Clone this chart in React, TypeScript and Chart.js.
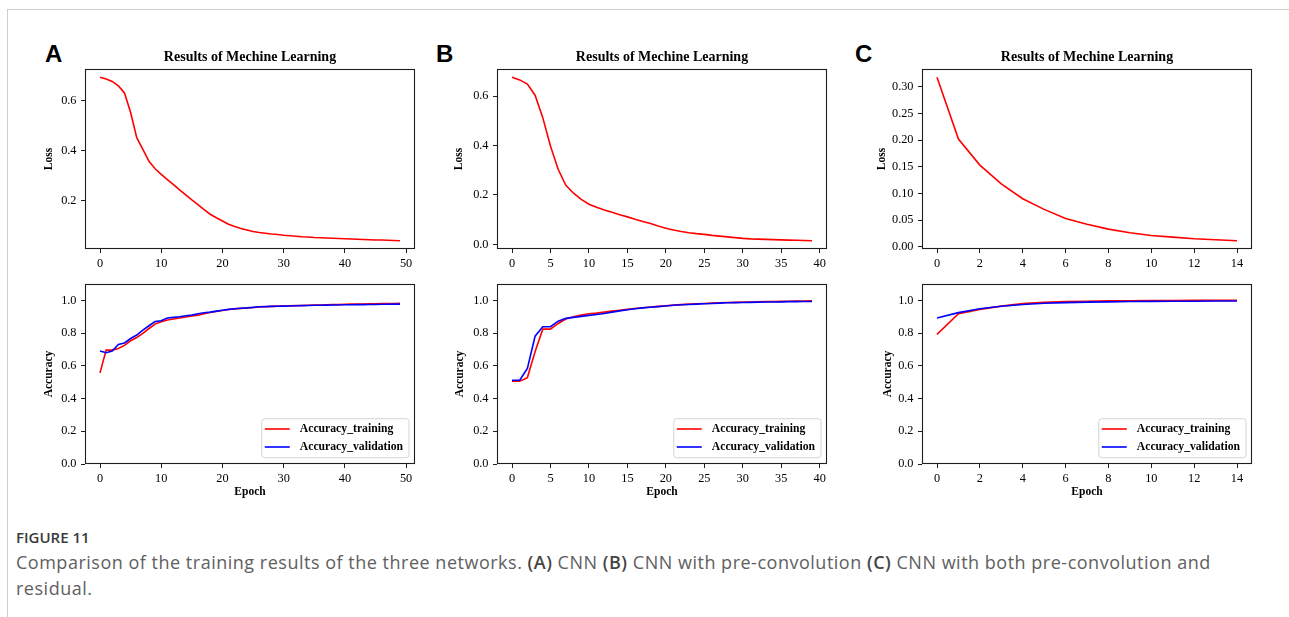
import React, { useEffect, useRef } from 'react';
import { Chart, registerables } from 'chart.js';

Chart.register(...registerables);

const SERIF = "'Liberation Serif', 'Times New Roman', Times, serif";
const SANS = "'Liberation Sans', Arial, Helvetica, sans-serif";
const CAPTION_FONT = "'Open Sans', 'Noto Sans', sans-serif";

// ---------- data ----------
const chartTitle = 'Results of Mechine Learning';
const panelLetters = ['A', 'B', 'C'];
const trainingLabel = 'Accuracy_training';
const validationLabel = 'Accuracy_validation';

const lossA = [0.693, 0.686, 0.676, 0.658, 0.63, 0.552, 0.452, 0.405, 0.358, 0.328, 0.306, 0.285, 0.265, 0.244, 0.224, 0.204, 0.185, 0.165, 0.147, 0.133, 0.12, 0.107, 0.098, 0.09, 0.084, 0.078, 0.074, 0.071, 0.068, 0.066, 0.063, 0.061, 0.059, 0.057, 0.056, 0.054, 0.053, 0.052, 0.051, 0.05, 0.049, 0.048, 0.047, 0.046, 0.045, 0.044, 0.044, 0.043, 0.042, 0.041];
const accTrainA = [0.557, 0.696, 0.696, 0.706, 0.725, 0.753, 0.773, 0.798, 0.828, 0.855, 0.87, 0.88, 0.886, 0.892, 0.898, 0.904, 0.91, 0.918, 0.926, 0.932, 0.938, 0.944, 0.948, 0.951, 0.953, 0.956, 0.959, 0.961, 0.963, 0.965, 0.966, 0.967, 0.968, 0.969, 0.97, 0.971, 0.972, 0.973, 0.974, 0.975, 0.976, 0.977, 0.977, 0.978, 0.979, 0.979, 0.98, 0.98, 0.981, 0.982];
const accValA = [0.69, 0.68, 0.69, 0.73, 0.74, 0.767, 0.788, 0.818, 0.845, 0.87, 0.875, 0.892, 0.896, 0.9, 0.906, 0.91, 0.918, 0.924, 0.928, 0.934, 0.94, 0.945, 0.949, 0.952, 0.954, 0.957, 0.961, 0.962, 0.963, 0.964, 0.965, 0.966, 0.967, 0.968, 0.969, 0.97, 0.97, 0.971, 0.972, 0.972, 0.973, 0.973, 0.974, 0.974, 0.975, 0.975, 0.976, 0.976, 0.977, 0.977];

const lossB = [0.677, 0.666, 0.649, 0.604, 0.513, 0.398, 0.304, 0.239, 0.207, 0.182, 0.162, 0.15, 0.139, 0.13, 0.12, 0.111, 0.101, 0.092, 0.084, 0.074, 0.065, 0.058, 0.052, 0.047, 0.043, 0.04, 0.036, 0.033, 0.03, 0.027, 0.024, 0.022, 0.021, 0.02, 0.019, 0.018, 0.017, 0.016, 0.015, 0.014];
const accTrainB = [0.506, 0.506, 0.528, 0.686, 0.824, 0.824, 0.859, 0.886, 0.9, 0.91, 0.918, 0.922, 0.928, 0.934, 0.94, 0.945, 0.95, 0.955, 0.959, 0.963, 0.967, 0.971, 0.974, 0.977, 0.979, 0.981, 0.983, 0.985, 0.987, 0.988, 0.989, 0.99, 0.991, 0.992, 0.993, 0.994, 0.995, 0.996, 0.996, 0.997];
const accValB = [0.512, 0.512, 0.584, 0.781, 0.839, 0.839, 0.873, 0.89, 0.896, 0.902, 0.908, 0.914, 0.92, 0.928, 0.936, 0.943, 0.949, 0.954, 0.958, 0.962, 0.966, 0.97, 0.973, 0.975, 0.977, 0.979, 0.981, 0.983, 0.985, 0.986, 0.987, 0.988, 0.989, 0.99, 0.99, 0.991, 0.992, 0.992, 0.993, 0.993];

const lossC = [0.318, 0.202, 0.153, 0.118, 0.09, 0.07, 0.053, 0.042, 0.033, 0.026, 0.021, 0.018, 0.015, 0.013, 0.011];
const accTrainC = [0.792, 0.918, 0.945, 0.965, 0.98, 0.988, 0.992, 0.995, 0.997, 0.998, 0.999, 0.999, 1.0, 1.0, 1.0];
const accValC = [0.892, 0.925, 0.949, 0.964, 0.975, 0.982, 0.986, 0.989, 0.991, 0.993, 0.994, 0.995, 0.995, 0.996, 0.996];

const xTicksA = [0, 10, 20, 30, 40, 50];
const xTicksB = [0, 5, 10, 15, 20, 25, 30, 35, 40];
const xTicksC = [0, 2, 4, 6, 8, 10, 12, 14];
const lossTickLabelsA = ['0.2', '0.4', '0.6'];
const lossTickLabelsB = ['0.0', '0.2', '0.4', '0.6'];
const lossTickLabelsC = ['0.00', '0.05', '0.10', '0.15', '0.20', '0.25', '0.30'];
const accTickLabels = ['0.0', '0.2', '0.4', '0.6', '0.8', '1.0'];
const accRange = [0, 1.1];

const captionHead = 'FIGURE 11';

// ---------- layout constants ----------
const PLOT_W = 330;
const PLOT_H = 180;
const Y_W = 60;
const RIGHT_PAD = 14;
const RED = '#ff0000';
const BLUE = '#0000ff';
const AXIS = '#1e1e1e';

type Series = { label: string; color: string; values: number[]; order: number };
type Panel = {
  left: number;
  top: number;
  series: Series[];
  xTicks: number[];
  yTickLabels: string[];
  yRange?: number[];
  yTitle: string;
  yTitleOffset: number;
  withTitle: boolean;
  withXTitle: boolean;
  legend: boolean;
};

const marginRange = (vals: number[][]) => {
  const all = vals.flat();
  const mn = Math.min(...all);
  const mx = Math.max(...all);
  const m = (mx - mn) * 0.05;
  return [mn - m, mx + m];
};

const framePlugin = {
  id: 'axesFrame',
  afterDatasetsDraw(chart: any) {
    const { ctx, chartArea } = chart;
    ctx.save();
    ctx.strokeStyle = AXIS;
    ctx.lineWidth = 1.1;
    const l = Math.round(chartArea.left) + 0.5;
    const t = Math.round(chartArea.top) + 0.5;
    const r = Math.round(chartArea.right) - 0.5;
    const b = Math.round(chartArea.bottom) - 0.5;
    ctx.strokeRect(l, t, r - l, b - t);
    ctx.restore();
  },
};

const insetLegendPlugin = {
  id: 'insetLegend',
  afterDraw(chart: any, _args: any, opts: any) {
    if (!opts || !opts.display) return;
    const { ctx, chartArea } = chart;
    const items = chart.data.datasets.map((ds: any) => ({ label: ds.label, color: ds.borderColor }));
    ctx.save();
    ctx.font = `bold 11.7px ${SERIF}`;
    const textW = Math.max(...items.map((it: any) => ctx.measureText(it.label).width));
    const w = 38 + textW + 6;
    const h = 39;
    const x = chartArea.right - 6 - w;
    const y = chartArea.bottom - 6.3 - h;
    ctx.beginPath();
    const rr = 3;
    ctx.moveTo(x + rr, y);
    ctx.lineTo(x + w - rr, y);
    ctx.quadraticCurveTo(x + w, y, x + w, y + rr);
    ctx.lineTo(x + w, y + h - rr);
    ctx.quadraticCurveTo(x + w, y + h, x + w - rr, y + h);
    ctx.lineTo(x + rr, y + h);
    ctx.quadraticCurveTo(x, y + h, x, y + h - rr);
    ctx.lineTo(x, y + rr);
    ctx.quadraticCurveTo(x, y, x + rr, y);
    ctx.closePath();
    ctx.fillStyle = 'rgba(255,255,255,0.85)';
    ctx.fill();
    ctx.strokeStyle = '#d4d4d4';
    ctx.lineWidth = 1;
    ctx.stroke();
    items.forEach((it: any, k: number) => {
      const cy = y + 10.3 + 18 * k;
      ctx.beginPath();
      ctx.strokeStyle = it.color;
      ctx.lineWidth = 1.6;
      ctx.moveTo(x + 3, cy);
      ctx.lineTo(x + 28, cy);
      ctx.stroke();
      ctx.fillStyle = '#000';
      ctx.textBaseline = 'middle';
      ctx.textAlign = 'left';
      ctx.fillText(it.label, x + 38, cy);
    });
    ctx.restore();
  },
};

function PanelChart({ p }: { p: Panel }) {
  const ref = useRef<HTMLCanvasElement | null>(null);
  const topSpace = p.withTitle ? 24 : 8;
  const bottomSpace = p.withXTitle ? 38 : 25;
  const cw = Y_W + PLOT_W + RIGHT_PAD;
  const ch = topSpace + PLOT_H + bottomSpace;

  useEffect(() => {
    if (!ref.current) return;
    const n = p.series[0].values.length;
    const xMin = -(n - 1) * 0.05;
    const xMax = (n - 1) * 1.05;
    const yr = p.yRange ?? marginRange(p.series.map((s) => s.values));
    const yTickVals = p.yTickLabels.map((s) => Number(s));
    const tickFont = { family: SERIF, size: 12.3 };
    const titleFont = { family: SERIF, size: 11.5, weight: 'bold' as const };

    const chart = new Chart(ref.current, {
      type: 'line',
      data: {
        datasets: p.series.map((s) => ({
          label: s.label,
          data: s.values.map((v, i) => ({ x: i, y: v })),
          borderColor: s.color,
          backgroundColor: s.color,
          borderWidth: 1.6,
          pointRadius: 0,
          tension: 0,
          fill: false,
          order: s.order,
        })),
      },
      options: {
        animation: false,
        responsive: false,
        maintainAspectRatio: false,
        devicePixelRatio: 1,
        events: [],
        layout: { padding: { top: p.withTitle ? 0 : topSpace, right: RIGHT_PAD, left: 0, bottom: 0 } },
        plugins: {
          legend: { display: false },
          tooltip: { enabled: false },
          title: {
            display: p.withTitle,
            text: chartTitle,
            fullSize: false,
            color: '#000',
            font: { family: SERIF, size: 14, weight: 'bold' },
            padding: { top: 4.1, bottom: 3.1 },
          },
          insetLegend: { display: p.legend },
        } as any,
        scales: {
          x: {
            type: 'linear',
            min: xMin,
            max: xMax,
            afterBuildTicks: (s: any) => {
              s.ticks = p.xTicks.map((v) => ({ value: v }));
            },
            afterFit: (s: any) => {
              s.height = bottomSpace;
              s.paddingLeft = 0;
              s.paddingRight = 0;
            },
            grid: { display: true, drawOnChartArea: false, drawTicks: true, tickLength: 4, tickColor: AXIS, color: AXIS, lineWidth: 1 },
            border: { display: false },
            ticks: { font: tickFont, color: '#000', padding: 3, maxRotation: 0, autoSkip: false, callback: (v: any) => String(v) },
            title: { display: p.withXTitle, text: 'Epoch', color: '#000', font: titleFont, padding: { top: 0, bottom: 2.7 } },
          },
          y: {
            type: 'linear',
            min: yr[0],
            max: yr[1],
            afterBuildTicks: (s: any) => {
              s.ticks = yTickVals.map((v) => ({ value: v }));
            },
            afterFit: (s: any) => {
              s.width = Y_W;
              s.paddingTop = 0;
              s.paddingBottom = 0;
            },
            grid: { display: true, drawOnChartArea: false, drawTicks: true, tickLength: 4, tickColor: AXIS, color: AXIS, lineWidth: 1 },
            border: { display: false },
            ticks: {
              font: tickFont,
              color: '#000',
              padding: 4.5,
              autoSkip: false,
              callback: (v: any) => {
                const idx = yTickVals.findIndex((t) => Math.abs(t - v) < 1e-9);
                return idx >= 0 ? p.yTickLabels[idx] : '';
              },
            },
            title: {
              display: true,
              text: p.yTitle,
              color: '#000',
              font: titleFont,
              padding: { top: Y_W - 6.9 - p.yTitleOffset, bottom: 0 },
            },
          },
        },
      } as any,
      plugins: [framePlugin, insetLegendPlugin],
    });
    return () => chart.destroy();
  }, []);

  return (
    <canvas
      ref={ref}
      width={cw}
      height={ch}
      style={{ position: 'absolute', left: p.left - Y_W, top: p.top - topSpace, width: cw, height: ch }}
    />
  );
}

const trainSeries = (v: number[]): Series => ({ label: trainingLabel, color: RED, values: v, order: 1 });
const valSeries = (v: number[]): Series => ({ label: validationLabel, color: BLUE, values: v, order: 0 });

const panels: Panel[] = [
  { left: 85, top: 69, series: [{ label: 'Loss', color: RED, values: lossA, order: 0 }], xTicks: xTicksA, yTickLabels: lossTickLabelsA, yTitle: 'Loss', yTitleOffset: 36, withTitle: true, withXTitle: false, legend: false },
  { left: 497, top: 69, series: [{ label: 'Loss', color: RED, values: lossB, order: 0 }], xTicks: xTicksB, yTickLabels: lossTickLabelsB, yTitle: 'Loss', yTitleOffset: 37.7, withTitle: true, withXTitle: false, legend: false },
  { left: 922, top: 69, series: [{ label: 'Loss', color: RED, values: lossC, order: 0 }], xTicks: xTicksC, yTickLabels: lossTickLabelsC, yTitle: 'Loss', yTitleOffset: 40.3, withTitle: true, withXTitle: false, legend: false },
  { left: 85, top: 284, series: [trainSeries(accTrainA), valSeries(accValA)], xTicks: xTicksA, yTickLabels: accTickLabels, yRange: accRange, yTitle: 'Accuracy', yTitleOffset: 36, withTitle: false, withXTitle: true, legend: true },
  { left: 497, top: 284, series: [trainSeries(accTrainB), valSeries(accValB)], xTicks: xTicksB, yTickLabels: accTickLabels, yRange: accRange, yTitle: 'Accuracy', yTitleOffset: 37, withTitle: false, withXTitle: true, legend: true },
  { left: 922, top: 284, series: [trainSeries(accTrainC), valSeries(accValC)], xTicks: xTicksC, yTickLabels: accTickLabels, yRange: accRange, yTitle: 'Accuracy', yTitleOffset: 34.3, withTitle: false, withXTitle: true, legend: true },
];

const letterLefts = [45, 436, 855];

export default function App() {
  return (
    <div style={{ position: 'absolute', left: 0, top: 0, width: 1289, height: 617, background: '#fff', overflow: 'hidden' }}>
      <div style={{ position: 'absolute', left: 7, top: 9, width: 1300, height: 620, borderTop: '1px solid #cfcfcf', borderLeft: '1px solid #cfcfcf' }} />
      {panelLetters.map((L, i) => (
        <div key={L} style={{ position: 'absolute', left: letterLefts[i], top: 42, fontFamily: SANS, fontWeight: 'bold', fontSize: 24, lineHeight: '24px', color: '#000' }}>
          {L}
        </div>
      ))}
      {panels.map((p, i) => (
        <PanelChart key={i} p={p} />
      ))}
      <div style={{ position: 'absolute', left: 16, top: 527, fontFamily: CAPTION_FONT, fontSize: 15, lineHeight: '20px', color: '#3a3a3a', fontWeight: 600 }}>
        {captionHead}
      </div>
      <div style={{ position: 'absolute', left: 16, top: 549, width: 1260, fontFamily: CAPTION_FONT, fontSize: 18, letterSpacing: '0.51px', lineHeight: '26px', color: '#606060', whiteSpace: 'nowrap' }}>
        Comparison of the training results of the three networks. <b style={{ fontWeight: 600, color: '#444' }}>(A)</b> CNN <b style={{ fontWeight: 600, color: '#444' }}>(B)</b> CNN with pre-convolution <b style={{ fontWeight: 600, color: '#444' }}>(C)</b> CNN with both pre-convolution and
        <br />
        residual.
      </div>
    </div>
  );
}
